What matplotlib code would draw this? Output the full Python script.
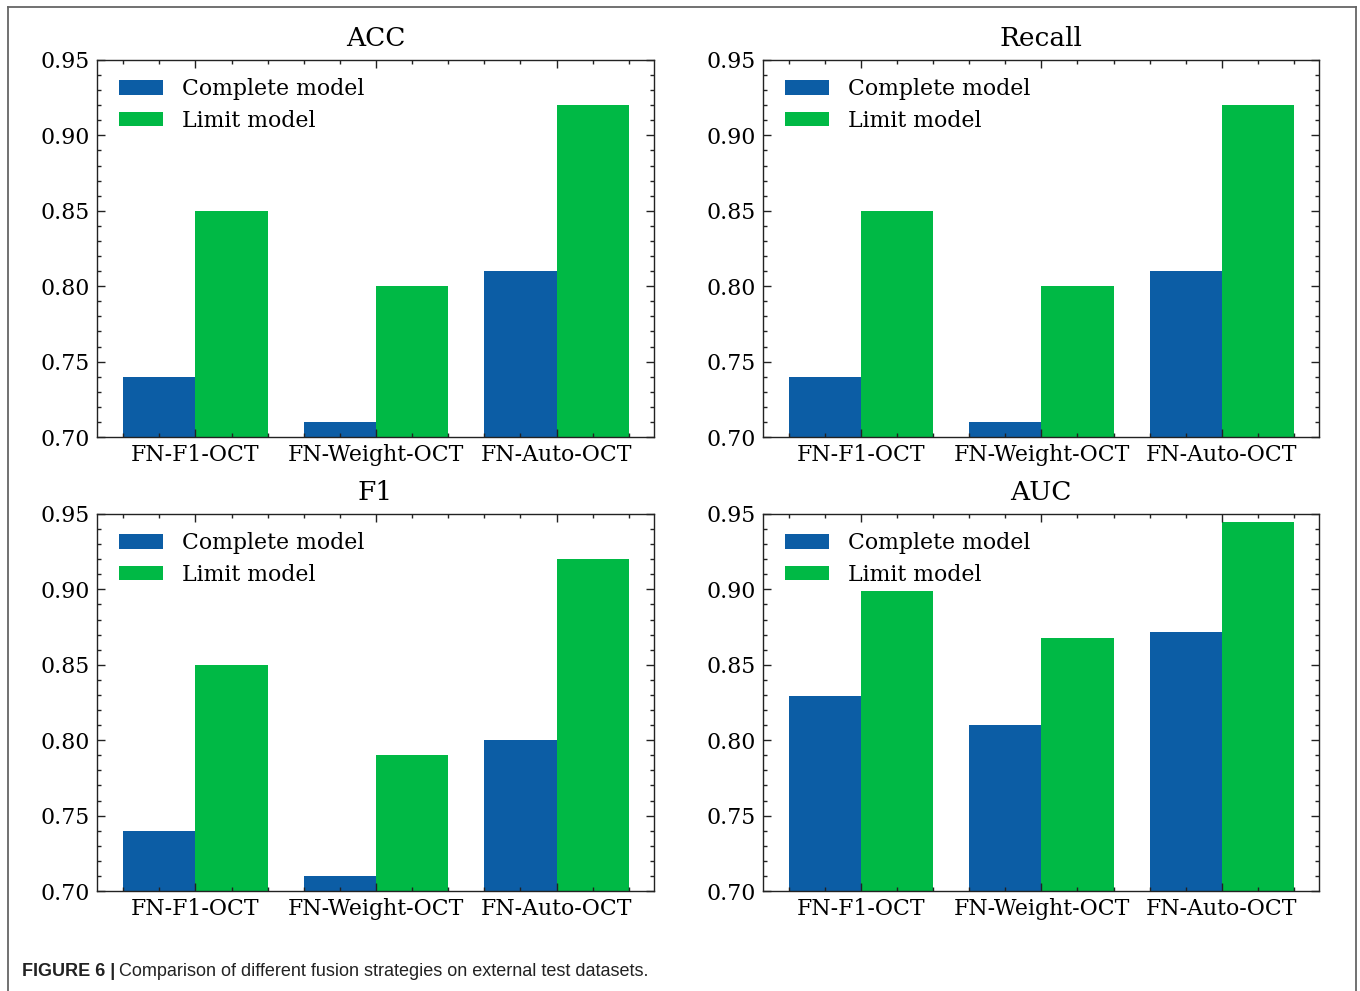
import matplotlib
matplotlib.use("Agg")
import matplotlib.pyplot as plt
import numpy as np
from matplotlib.ticker import MultipleLocator
from matplotlib.lines import Line2D

categories = ["FN-F1-OCT", "FN-Weight-OCT", "FN-Auto-OCT"]
series_names = ["Complete model", "Limit model"]
titles = ["ACC", "Recall", "F1", "AUC"]
acc_complete = [0.74, 0.71, 0.81]
acc_limit = [0.85, 0.80, 0.92]
recall_complete = [0.74, 0.71, 0.81]
recall_limit = [0.85, 0.80, 0.92]
f1_complete = [0.74, 0.71, 0.80]
f1_limit = [0.85, 0.79, 0.92]
auc_complete = [0.829, 0.810, 0.872]
auc_limit = [0.899, 0.868, 0.945]
yticks = [0.70, 0.75, 0.80, 0.85, 0.90, 0.95]

colors = ["#0C5DA5", "#00B945"]
panels = [(acc_complete, acc_limit), (recall_complete, recall_limit),
          (f1_complete, f1_limit), (auc_complete, auc_limit)]

plt.rcParams["font.family"] = ["DejaVu Serif"]
plt.rcParams["mathtext.fontset"] = "dejavuserif"

W, H = 1360, 991
fig = plt.figure(figsize=(W / 100, H / 100), dpi=100)

# axes boxes in pixel coords (left, top, right, bottom)
boxes = [(97, 60, 654, 437), (763, 60, 1319, 437),
         (97, 514, 654, 891), (763, 514, 1319, 891)]

x = np.arange(len(categories))
w = 0.4
for (comp, lim), title, (l, t, r, b) in zip(panels, titles, boxes):
    ax = fig.add_axes([l / W, 1 - b / H, (r - l) / W, (b - t) / H])
    ax.bar(x - w / 2, comp, w, color=colors[0], label=series_names[0])
    ax.bar(x + w / 2, lim, w, color=colors[1], label=series_names[1])
    ax.set_ylim(0.70, 0.95)
    ax.set_xlim(-0.545, 2.54)
    ax.set_yticks(yticks)
    ax.set_yticklabels([f"{v:.2f}" for v in yticks])
    ax.set_xticks(x)
    ax.set_xticklabels(categories)
    ax.yaxis.set_minor_locator(MultipleLocator(0.01))
    ax.xaxis.set_minor_locator(MultipleLocator(0.2))
    ax.tick_params(which="both", direction="in", top=True, right=True,
                   labelsize=15.8, width=1.0, color="#222222")
    ax.tick_params(which="major", length=5.5, pad=5)
    ax.tick_params(which="minor", length=3)
    for s in ax.spines.values():
        s.set_linewidth(1.0)
        s.set_color("#222222")
    ax.set_title(title, fontsize=19, pad=10)
    ax.legend(loc="upper left", frameon=False, fontsize=15.8,
              handlelength=2.0, handleheight=0.65, handletextpad=0.85,
              labelspacing=0.45, borderaxespad=0.42,
              bbox_to_anchor=(4 / (r - l), 1.0))

# outer frame (left, top, right)
frame_color = "#666666"
fig.add_artist(Line2D([8 / W, 8 / W], [0, 1 - 6.5 / H], transform=fig.transFigure,
                      color=frame_color, lw=1.3))
fig.add_artist(Line2D([8 / W, 1356 / W], [1 - 6.5 / H, 1 - 6.5 / H],
                      transform=fig.transFigure, color=frame_color, lw=1.3))
fig.add_artist(Line2D([1356 / W, 1356 / W], [0, 1 - 6.5 / H], transform=fig.transFigure,
                      color=frame_color, lw=1.3))

# caption
t1 = fig.text(22 / W, 1 - 971 / H, "FIGURE 6 |", family=["Liberation Sans", "DejaVu Sans"],
              fontsize=13, fontweight="bold", va="center", ha="left", color="#222222")
fig.canvas.draw()
bb = t1.get_window_extent(renderer=fig.canvas.get_renderer())
fig.text((bb.x1 + 4) / W, 1 - 971 / H, "Comparison of different fusion strategies on external test datasets.",
         family=["Liberation Sans", "DejaVu Sans"], fontsize=13, va="center", ha="left",
         color="#222222")

fig.savefig("out.png", dpi=100)
